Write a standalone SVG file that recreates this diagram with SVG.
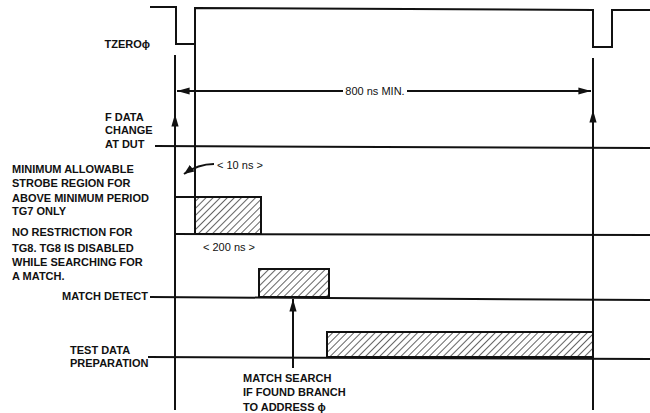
<svg xmlns="http://www.w3.org/2000/svg" width="650" height="413" viewBox="0 0 650 413">
<style>
.ln{stroke:#111;stroke-width:2;fill:none}
.t{font-family:"Liberation Sans",Arial,sans-serif;font-size:11px;font-weight:bold;fill:#111}
.n{font-weight:normal}
.h{fill:url(#hatch);stroke:#111;stroke-width:2}
</style>
<defs>
<pattern id="hatch" patternUnits="userSpaceOnUse" width="5" height="5" patternTransform="rotate(45)">
<rect width="5" height="5" fill="#fff"/>
<line x1="0" y1="0" x2="0" y2="5" stroke="#111" stroke-width="1.3"/>
</pattern>
<marker id="ah" viewBox="0 0 10 10" refX="10" refY="5" markerWidth="10" markerHeight="10" markerUnits="userSpaceOnUse" orient="auto">
<path d="M0,1 L10,5 L0,9 Z" fill="#111"/>
</marker>
<marker id="ahL" viewBox="0 0 14 10" refX="14" refY="5" markerWidth="14" markerHeight="9" markerUnits="userSpaceOnUse" orient="auto">
<path d="M0,1 L14,5 L0,9 Z" fill="#111"/>
</marker>
</defs>
<rect width="650" height="413" fill="#fff"/>
<g id="tzero">
<path class="ln" d="M150,7 L176,7 L176,44 L195,44 L195,8 L593,10 L593,47 L612,47 L612,10 L650,10"/>
<text class="t" x="150" y="48" text-anchor="end">TZEROϕ</text>
</g>
<g id="fdata">
<text class="t" x="105" y="121">F DATA</text>
<text class="t" x="105" y="134">CHANGE</text>
<text class="t" x="105" y="148">AT DUT</text>
</g>
<g id="strobe">
<text class="t" x="12" y="173">MINIMUM ALLOWABLE</text>
<text class="t" x="12" y="187">STROBE REGION FOR</text>
<text class="t" x="12" y="202">ABOVE MINIMUM PERIOD</text>
<text class="t" x="12" y="215">TG7 ONLY</text>
<text class="t" x="12" y="236">NO RESTRICTION FOR</text>
<text class="t" x="12" y="252">TG8.  TG8 IS DISABLED</text>
<text class="t" x="12" y="266">WHILE SEARCHING FOR</text>
<text class="t" x="12" y="280">A MATCH.</text>
<rect class="h" x="195" y="197" width="66" height="37"/>
<text class="t n" x="203" y="251">&lt; 200 ns &gt;</text>
<text class="t n" x="217" y="169">&lt; 10 ns &gt;</text>
</g>
<g id="matchdetect">
<text class="t" x="148" y="300" text-anchor="end">MATCH DETECT</text>
<rect class="h" x="259" y="269" width="70" height="28"/>
</g>
<g id="testdata">
<text class="t" x="70" y="354">TEST DATA</text>
<text class="t" x="70" y="367">PREPARATION</text>
<rect class="h" x="327" y="332" width="266" height="25"/>
</g>
<g id="matchsearch">
<text class="t" x="243" y="382">MATCH SEARCH</text>
<text class="t" x="243" y="396">IF FOUND BRANCH</text>
<text class="t" x="243" y="411">TO ADDRESS ϕ</text>
</g>
<g id="connectors">
<line class="ln" x1="175" y1="55" x2="175" y2="410"/>
<line class="ln" x1="195" y1="44" x2="195" y2="234"/>
<line class="ln" x1="593" y1="58" x2="593" y2="410"/>
<line class="ln" x1="175" y1="124" x2="175" y2="114" marker-end="url(#ahL)"/>
<line class="ln" x1="593" y1="124" x2="593" y2="110" marker-end="url(#ahL)"/>
<line class="ln" x1="343" y1="91" x2="177" y2="91" marker-end="url(#ahL)"/>
<line class="ln" x1="407" y1="91" x2="591" y2="91" marker-end="url(#ahL)"/>
<text class="t n" x="375" y="95" text-anchor="middle">800 ns MIN.</text>
<line class="ln" x1="155" y1="146" x2="650" y2="148"/>
<line class="ln" x1="175" y1="197" x2="195" y2="197"/>
<line class="ln" x1="175" y1="234" x2="650" y2="235"/>
<path class="ln" d="M214,164 Q198,164 184,174" stroke-width="1.5" marker-end="url(#ah)"/>
<line class="ln" x1="150" y1="297" x2="650" y2="300"/>
<line class="ln" x1="148" y1="357" x2="650" y2="359"/>
<line class="ln" x1="293" y1="368" x2="293" y2="299" marker-end="url(#ahL)"/>
</g>
</svg>
